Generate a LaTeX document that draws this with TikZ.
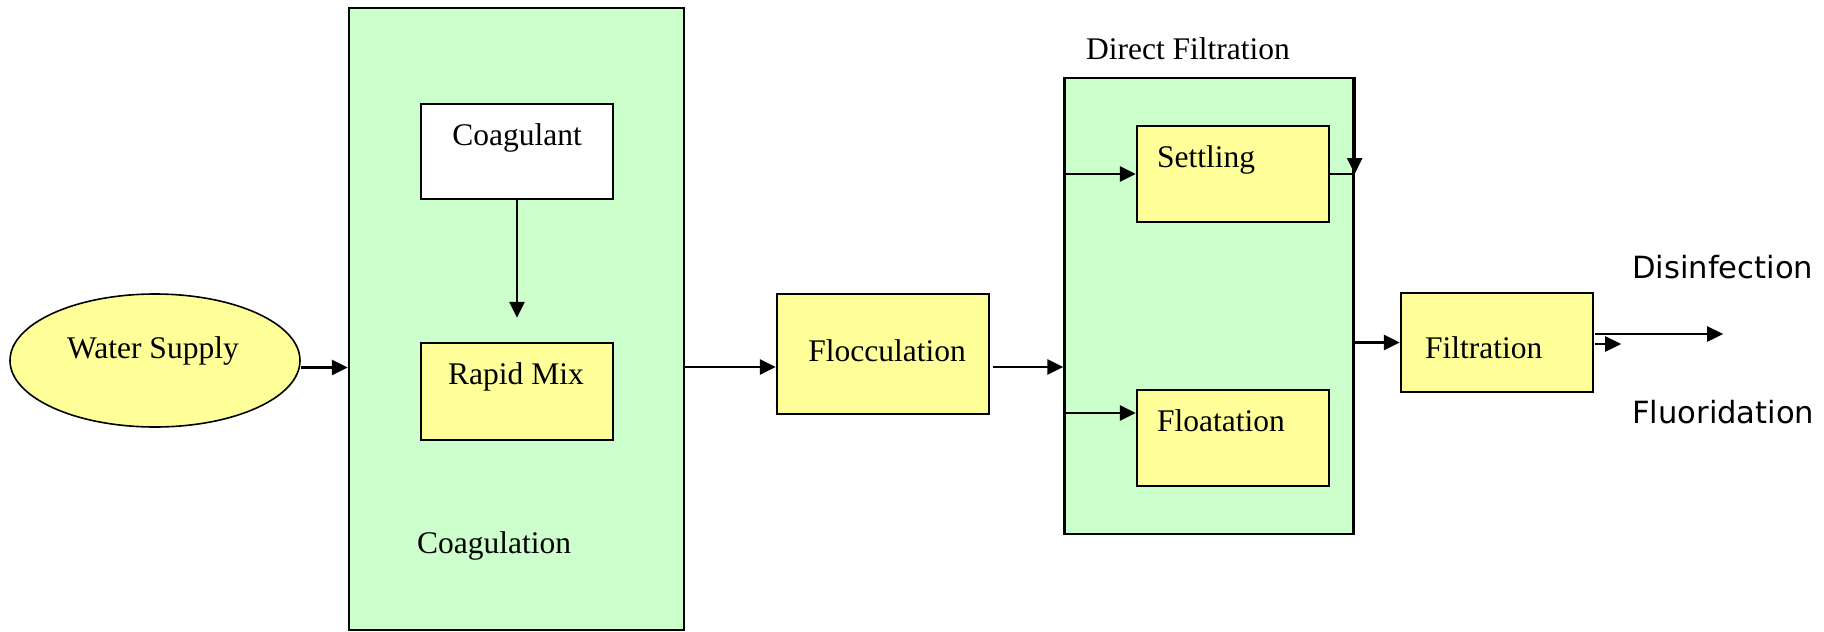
\documentclass[tikz,border=0pt]{standalone}
\usepackage{fontspec}
\setmainfont{Liberation Serif}
\newfontfamily\outsans{DejaVu Sans}
\usetikzlibrary{arrows.meta,shapes.geometric,positioning}
\definecolor{stagegreen}{HTML}{CCFFCC}
\definecolor{unityellow}{HTML}{FFFF99}

\begin{document}
\begin{tikzpicture}[
        x=1pt, y=-1pt, % 坐标按像素计，y 轴向下
        font=\fontsize{31.5}{36}\selectfont,
        stage/.style={draw, line width=2.4pt, fill=stagegreen, inner sep=0pt},
        unit/.style={draw, line width=2.4pt, fill=unityellow, inner sep=0pt,
            minimum width=192pt, minimum height=96pt},
        txt/.style={inner sep=0pt},
        flow/.style={line width=2.6pt, -{Triangle[length=16pt,width=15pt]}}
    ]
    \useasboundingbox (0,0) rectangle (1824,632);

    % --- 原水 ---
    \node[ellipse, draw, line width=1.6pt, fill=unityellow, inner sep=0pt,
        minimum width=290pt, minimum height=133pt] (supply) at (155,360.5) {};
    \node[txt, anchor=base] (supply-txt) at (153,358) {Water Supply};

    % --- 混凝（大框） ---
    \node[stage, minimum width=335pt, minimum height=622pt] (coag) at (516.5,319) {};
    \node[txt, anchor=base] (coag-txt) at (494,553) {Coagulation};
    \node[draw, line width=2.4pt, fill=white, inner sep=0pt,
        minimum width=192pt, minimum height=95pt] (coagulant) at (517,151.5) {};
    \node[txt, anchor=base] (coagulant-txt) at (517,145) {Coagulant};
    \node[unit, minimum height=97pt] (rapid) at (517,391.5) {};
    \node[txt, anchor=base] (rapid-txt) at (516,384) {Rapid Mix};

    % --- 絮凝 ---
    \node[unit, minimum width=212pt, minimum height=120pt] (floc) at (883,354) {};
    \node[txt, anchor=base] (floc-txt) at (887,361) {Flocculation};

    % --- 直接过滤（大框） ---
    \node[stage, minimum width=289pt, minimum height=456pt] (direct) at (1209,306) {};
    \node[txt, anchor=base] (direct-txt) at (1188,59) {Direct Filtration};
    \node[unit] (settling) at (1233,174) {};
    \node[txt, anchor=base west] (settling-txt) at (1157,167) {Settling};
    \node[unit] (float) at (1233,438) {};
    \node[txt, anchor=base west] (float-txt) at (1157,431) {Floatation};

    % --- 过滤 ---
    \node[unit, minimum height=99pt] (filt) at (1497,342.5) {};
    \node[txt, anchor=base west] (filt-txt) at (1425,358) {Filtration};

    % 出水后的两项处理
    \node[txt, anchor=base west, font=\outsans\fontsize{30.6}{36}\selectfont] (disinf-txt) at (1632,278) {Disinfection};
    \node[txt, anchor=base west, font=\outsans\fontsize{30.6}{36}\selectfont] (fluor-txt) at (1632,423) {Fluoridation};

    % --- 连线 ---
    \draw[flow] ([yshift=-7pt]supply.east) -- ([yshift=-7pt]supply.east -| coag.west);
    \draw[flow] (coagulant.south) -- ([yshift=24pt]rapid.north);
    \draw[flow] ([yshift=-13pt]floc.west -| coag.east) -- ([yshift=-13pt]floc.west);
    \draw[flow] ([xshift=3pt,yshift=-13pt]floc.east) -- ([yshift=-13pt]floc.east -| direct.west);
    \draw[flow] (settling.west -| direct.west) -- (settling.west);
    \draw[flow] ([yshift=25pt]float.west -| direct.west) -- ([yshift=25pt]float.west);
    \draw[line width=2.4pt] (settling.east) -- (settling.east -| direct.east);
    \draw[flow] (direct.north east) -- (settling.east -| direct.east);
    \draw[flow] (filt.west -| direct.east) -- (filt.west);
    \draw[flow] ([xshift=1pt,yshift=8.5pt]filt.east) -- ++(128,0);
    \draw[flow] ([xshift=1pt,yshift=-1.5pt]filt.east) -- ++(26,0);

\end{tikzpicture}
\end{document}
